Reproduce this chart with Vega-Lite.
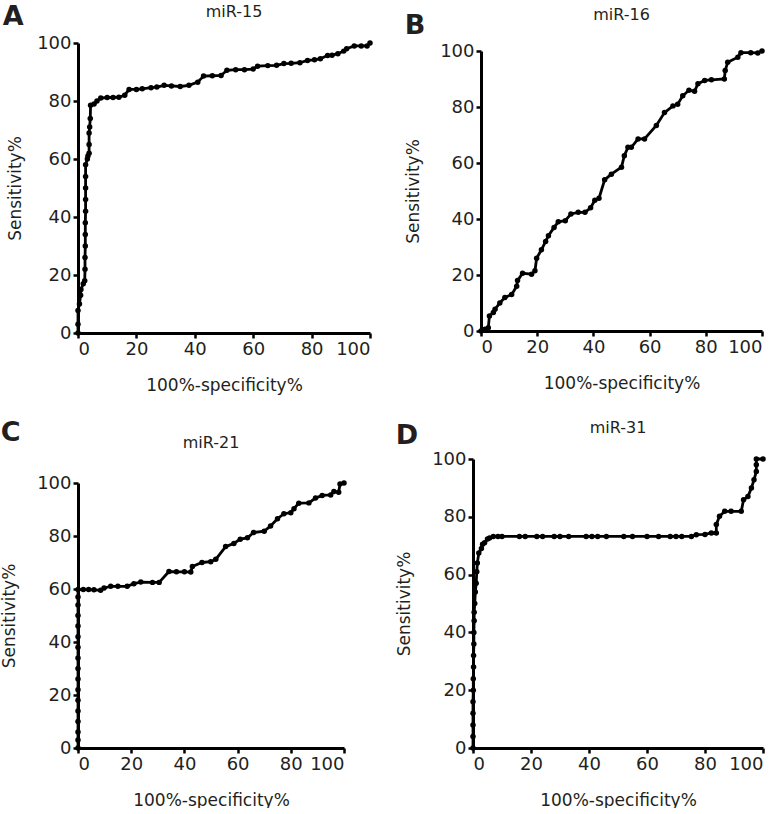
{
  "$schema": "https://vega.github.io/schema/vega-lite/v6.json",
  "padding": {"left": 0, "top": 3, "right": 0, "bottom": 0},
  "background": "white",
  "config": {
    "view": {"stroke": null},
    "font": "DejaVu Sans",
    "axis": {
      "grid": false,
      "domainColor": "black",
      "domainWidth": 3,
      "tickColor": "black",
      "tickWidth": 2.5,
      "tickSize": 5,
      "labelFont": "DejaVu Sans",
      "labelFontSize": 18,
      "labelColor": "#231f20",
      "labelPadding": 2,
      "titleFont": "DejaVu Sans",
      "titleFontSize": 17,
      "titleFontWeight": "normal",
      "titleColor": "#231f20"
    },
    "title": {"font": "DejaVu Sans", "fontSize": 16, "fontWeight": "normal", "color": "#231f20"},
    "line": {"color": "black", "strokeWidth": 2.8, "clip": false, "point": {"filled": true, "size": 30, "color": "black"}}
  },
  "datasets": {
    "A": [
      {"x":0,"y":0},{"x":0,"y":3},{"x":0,"y":7.8},{"x":0.5,"y":10},{"x":0.9,"y":13},{"x":1,"y":15},{"x":1.8,"y":17},{"x":2.3,"y":18},{"x":2.4,"y":22},{"x":2.4,"y":26},{"x":2.5,"y":30},{"x":2.5,"y":34},{"x":2.5,"y":38},{"x":2.6,"y":42},{"x":2.6,"y":46},{"x":2.6,"y":50},{"x":2.6,"y":54},{"x":2.6,"y":58},{"x":3.2,"y":60},{"x":3.4,"y":61},{"x":3.8,"y":62},{"x":3.8,"y":65},{"x":3.8,"y":69},{"x":4,"y":71},{"x":4.2,"y":74},{"x":4.3,"y":78.5},{"x":5.5,"y":79},{"x":6.5,"y":80},{"x":7.8,"y":81},{"x":10,"y":81.2},{"x":12,"y":81.2},{"x":14,"y":81.3},{"x":16,"y":82},{"x":17.5,"y":84},{"x":20,"y":84},{"x":22,"y":84.2},{"x":25,"y":84.6},{"x":27,"y":84.8},{"x":29.5,"y":85.4},{"x":32,"y":85.2},{"x":35,"y":85},{"x":38,"y":85.4},{"x":41,"y":86.5},{"x":43,"y":88.6},{"x":46,"y":88.7},{"x":49,"y":88.8},{"x":51,"y":90.6},{"x":54,"y":90.8},{"x":57,"y":90.8},{"x":60,"y":91},{"x":61.5,"y":92},{"x":65,"y":92.2},{"x":68,"y":92.3},{"x":70.5,"y":92.9},{"x":73,"y":93},{"x":76,"y":93.2},{"x":78.6,"y":94},{"x":81,"y":94.2},{"x":83,"y":94.6},{"x":85.5,"y":95.7},{"x":87,"y":95.8},{"x":89,"y":96.3},{"x":91,"y":97.2},{"x":92,"y":98},{"x":94.6,"y":99},{"x":97,"y":99},{"x":99,"y":99},{"x":100,"y":100}
    ],
    "B": [
      {"x":0,"y":0},{"x":1.4,"y":0.6},{"x":2.6,"y":1.2},{"x":3,"y":5.4},{"x":4.4,"y":6.6},{"x":5,"y":7.8},{"x":6.7,"y":10},{"x":8.5,"y":12},{"x":10.9,"y":13},{"x":12.7,"y":16},{"x":13,"y":18},{"x":14.8,"y":20.6},{"x":18,"y":20.3},{"x":19.2,"y":21.5},{"x":19.8,"y":26},{"x":21.5,"y":29},{"x":23,"y":32},{"x":24,"y":34},{"x":26,"y":37},{"x":27.5,"y":39},{"x":30,"y":39.4},{"x":32,"y":41.8},{"x":34.6,"y":42.4},{"x":37,"y":42.4},{"x":39,"y":44},{"x":40.5,"y":46.7},{"x":42,"y":47.4},{"x":44,"y":54},{"x":46.4,"y":56},{"x":50,"y":58.5},{"x":51,"y":62.6},{"x":52.3,"y":65.6},{"x":53.5,"y":65.6},{"x":55.9,"y":68.6},{"x":58.2,"y":68.6},{"x":62.4,"y":73.4},{"x":65.3,"y":78},{"x":68.3,"y":80.4},{"x":70,"y":81},{"x":71.8,"y":84},{"x":74,"y":86},{"x":76,"y":85.6},{"x":77.2,"y":88.3},{"x":79.6,"y":89.5},{"x":82,"y":89.7},{"x":86.6,"y":90},{"x":86.9,"y":93},{"x":87.8,"y":96},{"x":91.4,"y":97.8},{"x":92.5,"y":99.4},{"x":96,"y":99.4},{"x":98.5,"y":99.3},{"x":100,"y":100}
    ],
    "C": [
      {"x":0,"y":0},{"x":0,"y":3},{"x":0,"y":6},{"x":0,"y":10},{"x":0,"y":14},{"x":0,"y":18},{"x":0,"y":22},{"x":0,"y":26},{"x":0,"y":30},{"x":0,"y":34},{"x":0,"y":38},{"x":0,"y":42},{"x":0,"y":46},{"x":0,"y":50},{"x":0,"y":54},{"x":0,"y":57},{"x":0,"y":59.8},{"x":2,"y":59.8},{"x":4,"y":59.8},{"x":6,"y":59.7},{"x":8.5,"y":59.5},{"x":9.8,"y":60.4},{"x":12.3,"y":61},{"x":15,"y":61},{"x":18.5,"y":61},{"x":21,"y":62},{"x":23.6,"y":62.6},{"x":28,"y":62.5},{"x":30.5,"y":62.5},{"x":34.2,"y":66.6},{"x":37,"y":66.5},{"x":40,"y":66.5},{"x":42.4,"y":66.4},{"x":43,"y":68.5},{"x":46.6,"y":70},{"x":49.9,"y":70.3},{"x":51.8,"y":71.2},{"x":55.5,"y":76},{"x":58.6,"y":77.2},{"x":61,"y":78.8},{"x":63.7,"y":79.3},{"x":66,"y":81.3},{"x":70,"y":81.8},{"x":72.4,"y":83.8},{"x":75,"y":86.5},{"x":77.4,"y":88.4},{"x":80,"y":88.8},{"x":81.2,"y":90.3},{"x":83,"y":92.4},{"x":86.8,"y":92.5},{"x":89.3,"y":94.3},{"x":91.8,"y":95.3},{"x":95,"y":95.5},{"x":96.2,"y":96.8},{"x":98,"y":96.5},{"x":98.5,"y":99.6},{"x":100,"y":100}
    ],
    "D": [
      {"x":0,"y":0},{"x":0,"y":4},{"x":0,"y":8},{"x":0,"y":12},{"x":0,"y":16},{"x":0.1,"y":20},{"x":0.1,"y":24},{"x":0.2,"y":28},{"x":0.2,"y":32},{"x":0.3,"y":36},{"x":0.3,"y":40},{"x":0.4,"y":44},{"x":0.4,"y":47},{"x":0.6,"y":50},{"x":0.8,"y":54},{"x":1.1,"y":57},{"x":1.3,"y":61},{"x":1.5,"y":64},{"x":2,"y":67.5},{"x":2.9,"y":69},{"x":3.3,"y":70.5},{"x":4,"y":71},{"x":5,"y":72.3},{"x":5.7,"y":72.7},{"x":7,"y":73.2},{"x":8.6,"y":73.2},{"x":10,"y":73.2},{"x":16,"y":73.2},{"x":18,"y":73.2},{"x":22,"y":73.2},{"x":24,"y":73.2},{"x":28,"y":73.2},{"x":30,"y":73.2},{"x":33,"y":73.2},{"x":39,"y":73.2},{"x":41,"y":73.2},{"x":43,"y":73.2},{"x":46,"y":73.2},{"x":52,"y":73.2},{"x":55,"y":73.2},{"x":60,"y":73.2},{"x":64,"y":73.2},{"x":68,"y":73.2},{"x":70,"y":73.2},{"x":72,"y":73.2},{"x":75.3,"y":73.2},{"x":77,"y":73.8},{"x":80,"y":73.9},{"x":82.2,"y":74.4},{"x":83.9,"y":74.4},{"x":83.9,"y":77.3},{"x":85,"y":80.2},{"x":86.8,"y":81.9},{"x":89,"y":81.9},{"x":92.5,"y":81.9},{"x":93.3,"y":85.9},{"x":94.8,"y":87},{"x":96,"y":90},{"x":96.9,"y":92.8},{"x":97.7,"y":95.7},{"x":97.7,"y":98},{"x":97.7,"y":100},{"x":100,"y":100}
    ]
  },
  "spacing": 26,
  "vconcat": [
    {
      "spacing": 28,
      "hconcat": [
        {
          "title": {"text": "A", "anchor": "start", "fontSize": 27, "fontWeight": "bold", "offset": -27, "dx": -4},
          "vconcat": [{
            "width": 292, "height": 290,
            "title": {"text": "miR-15", "offset": 14, "dx": 10},
            "data": {"name": "A"},
            "mark": {"type": "line"},
            "encoding": {
              "x": {"field": "x", "type": "quantitative", "scale": {"domain": [0, 100], "nice": false}, "axis": {"title": "100%-specificity%", "titlePadding": 19, "values": [0, 20, 40, 60, 80, 100]}},
              "y": {"field": "y", "type": "quantitative", "scale": {"domain": [0, 100], "nice": false}, "axis": {"title": "Sensitivity%", "titlePadding": 12, "values": [0, 20, 40, 60, 80, 100]}}
            }
          }]
        },
        {
          "title": {"text": "B", "anchor": "start", "fontSize": 27, "fontWeight": "bold", "offset": -33},
          "vconcat": [{
            "width": 281, "height": 288,
            "title": {"text": "miR-16", "offset": 19},
            "data": {"name": "B"},
            "mark": {"type": "line"},
            "encoding": {
              "x": {"field": "x", "type": "quantitative", "scale": {"domain": [0, 100], "nice": false}, "axis": {"title": "100%-specificity%", "titlePadding": 19, "values": [0, 20, 40, 60, 80, 100]}},
              "y": {"field": "y", "type": "quantitative", "scale": {"domain": [0, 100], "nice": false, "range": [288, 8]}, "axis": {"title": "Sensitivity%", "titlePadding": 17, "values": [0, 20, 40, 60, 80, 100]}}
            }
          }]
        }
      ]
    },
    {
      "spacing": 45,
      "hconcat": [
        {
          "title": {"text": "C", "anchor": "start", "fontSize": 27, "fontWeight": "bold", "offset": -12},
          "vconcat": [{
            "width": 266, "height": 289,
            "title": {"text": "miR-21", "offset": 8},
            "data": {"name": "C"},
            "mark": {"type": "line"},
            "encoding": {
              "x": {"field": "x", "type": "quantitative", "scale": {"domain": [0, 100], "nice": false}, "axis": {"title": "100%-specificity%", "titlePadding": 19, "values": [0, 20, 40, 60, 80, 100]}},
              "y": {"field": "y", "type": "quantitative", "scale": {"domain": [0, 100], "nice": false, "range": [289, 24]}, "axis": {"title": "Sensitivity%", "titlePadding": 18, "values": [0, 20, 40, 60, 80, 100]}}
            }
          }]
        },
        {
          "title": {"text": "D", "anchor": "start", "fontSize": 27, "fontWeight": "bold", "offset": -30},
          "vconcat": [{
            "width": 290, "height": 289,
            "title": {"text": "miR-31", "offset": 14},
            "data": {"name": "D"},
            "mark": {"type": "line"},
            "encoding": {
              "x": {"field": "x", "type": "quantitative", "scale": {"domain": [0, 100], "nice": false}, "axis": {"title": "100%-specificity%", "titlePadding": 19, "values": [0, 20, 40, 60, 80, 100]}},
              "y": {"field": "y", "type": "quantitative", "scale": {"domain": [0, 100], "nice": false}, "axis": {"title": "Sensitivity%", "titlePadding": 18, "values": [0, 20, 40, 60, 80, 100]}}
            }
          }]
        }
      ]
    }
  ]
}
